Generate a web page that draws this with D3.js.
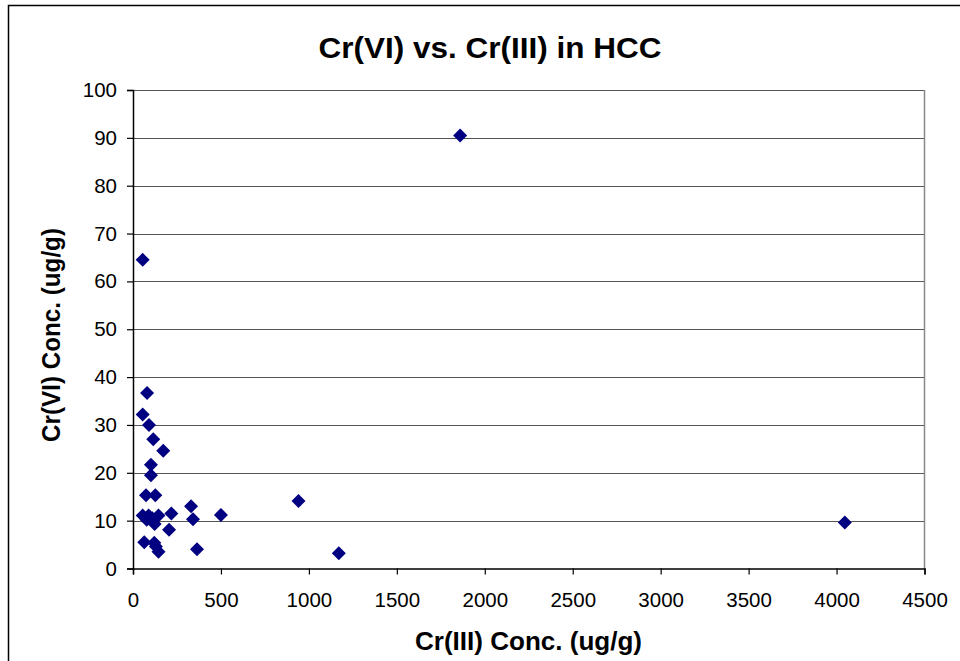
<!DOCTYPE html>
<html><head><meta charset="utf-8">
<script src="https://cdn.jsdelivr.net/npm/d3@7"></script>
<style>body{margin:0;background:#fff}svg{display:block;font-family:"Liberation Sans",Arial,sans-serif}</style>
</head><body>
<svg id="c" width="960" height="661"></svg>
<script>
const title = "Cr(VI) vs. Cr(III) in HCC";
const xTitle = "Cr(III) Conc. (ug/g)";
const yTitle = "Cr(VI) Conc. (ug/g)";
const xTicks = [0,500,1000,1500,2000,2500,3000,3500,4000,4500];
const yTicks = [0,10,20,30,40,50,60,70,80,90,100];
const cr3 = [80,55,91,115,172,102,102,74,127,330,500,218,55,89,145,123,78,341,205,64,121,145,364,130,941,1170,1860,4047,55,110];
const cr6 = [36.7,32.2,30.0,27.0,24.6,21.7,19.5,15.3,15.3,13.0,11.2,11.5,11.1,11.1,11.1,9.3,10.2,10.3,8.1,5.5,5.4,3.5,4.0,4.6,14.1,3.2,90.5,9.6,64.5,10.5];

const svg = d3.select("#c");
const L=133, R=924.5, T=90, B=568.5;
const x = d3.scaleLinear().domain([0,4500]).range([L,R]);
const y = d3.scaleLinear().domain([0,100]).range([B,T]);

svg.append("rect").attr("x",8.5).attr("y",5.5).attr("width",1000).attr("height",700)
  .attr("fill","#fff").attr("stroke","#000").attr("stroke-width",1.5);

// gridlines
svg.append("g").selectAll("line").data(yTicks.filter(d=>d>0)).join("line")
  .attr("x1",L).attr("x2",R).attr("y1",d=>Math.round(y(d))+0.5).attr("y2",d=>Math.round(y(d))+0.5)
  .attr("stroke","#555").attr("stroke-width",1.2);
svg.append("line").attr("x1",R).attr("x2",R).attr("y1",T).attr("y2",B).attr("stroke","#888").attr("stroke-width",1.5);

// axes
const xa = svg.append("g").attr("transform",`translate(0,${B})`)
  .call(d3.axisBottom(x).tickValues(xTicks).tickSize(6).tickPadding(18).tickFormat(d3.format("d")));
const ya = svg.append("g").attr("transform",`translate(${L},0)`)
  .call(d3.axisLeft(y).tickValues(yTicks).tickSize(6).tickPadding(10).tickFormat(d3.format("d")));
[xa,ya].forEach(a=>{
  a.select(".domain").attr("stroke","#000").attr("stroke-width",1.5);
  a.selectAll(".tick line").attr("stroke","#000").attr("stroke-width",1.2);
  a.selectAll("text").attr("font-size",20.5).attr("fill","#000").attr("font-family","Liberation Sans, Arial, sans-serif");
});

// points
svg.append("g").selectAll("path").data(cr3.map((v,i)=>[v,cr6[i]])).join("path")
  .attr("transform",d=>`translate(${x(d[0])},${y(d[1])})`)
  .attr("d","M0,-7L7,0L0,7L-7,0Z").attr("fill","#000080");

// titles
svg.append("text").attr("x",490).attr("y",58).attr("text-anchor","middle")
  .attr("font-size",29).attr("font-weight","bold")
  .attr("textLength",343).attr("lengthAdjust","spacingAndGlyphs").text(title);
svg.append("text").attr("x",528.5).attr("y",650).attr("text-anchor","middle")
  .attr("font-size",25).attr("font-weight","bold")
  .attr("textLength",227).attr("lengthAdjust","spacingAndGlyphs").text(xTitle);
svg.append("text").attr("transform","translate(60,335) rotate(-90)").attr("text-anchor","middle")
  .attr("font-size",25).attr("font-weight","bold")
  .attr("textLength",214).attr("lengthAdjust","spacingAndGlyphs").text(yTitle);
</script>
</body></html>
